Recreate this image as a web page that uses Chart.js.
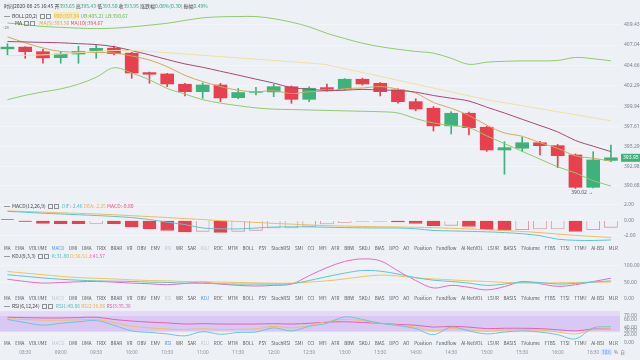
<!DOCTYPE html>
<html lang="zh-CN">
<head>
<meta charset="UTF-8" />
<title>K线 BOLL MA MACD KDJ RSI</title>
<script src="https://cdn.jsdelivr.net/npm/chart.js"></script>
<style>
  html, body { margin: 0; padding: 0; }
  body {
    width: 640px; height: 360px; overflow: hidden; position: relative;
    background: #edf0f5; color: #444;
    font-family: 'Noto Sans CJK SC', 'Noto Sans', sans-serif;
  }
  .pane { position: absolute; left: 0; }
  .txt { position: absolute; white-space: nowrap; font-size: 5px; line-height: 6px; }
  .txt b { font-weight: normal; }
  .g { color: #36a679; }
  .dash { display: inline-block; width: 6px; height: 0.7px; background: #999; vertical-align: middle; margin-right: 2px; }
  .box { display: inline-block; width: 3px; height: 3px; border: 0.7px solid #8a8f98; vertical-align: middle; margin-left: 1px; }
  .tabs {
    position: absolute; left: 4px; width: 614px; display: flex; justify-content: space-between;
    font-size: 4.6px; line-height: 6px; color: #555; white-space: nowrap;
  }
  .tabs .on { color: #4a8cf0; }
  .tabs .dim { color: #c3c7ce; }
</style>
</head>
<body>

<div class="pane" style="top:0"><canvas id="mainChart" width="640" height="197"></canvas></div>
<div class="pane" style="top:198px"><canvas id="macdChart" width="640" height="52"></canvas></div>
<div class="pane" style="top:250px"><canvas id="kdjChart" width="640" height="50"></canvas></div>
<div class="pane" style="top:300px"><canvas id="rsiChart" width="640" height="60"></canvas></div>

<div class="txt" style="left:4px;top:3px">时间2020-08-25 16:45 开<b class="g">393.65</b> 高<b class="g">395.43</b> 低<b class="g">393.50</b> 收<b class="g">393.95</b> 涨跌幅<b class="g">0.08%(0.30)</b> 振幅<b class="g">0.49%</b></div>
<div class="txt" style="left:4px;top:12.5px"><span class="dash"></span>BOLL(20,2) <span class="box"></span><span class="box"></span>
  <b style="color:#e5b52e;background:rgba(250,226,120,0.45);margin-left:2px">MID:397.94</b>
  <b style="color:#6dba4a">UB:405.21</b> <b style="color:#6dba4a">LB:390.67</b></div>
<div class="txt" style="left:15px;top:19.5px">MA <span class="box"></span><span class="box"></span>
  <b style="color:#e3a23a;margin-left:3px">MA(5):393.56</b> <b style="color:#e0505e">MA(10):394.67</b></div>
<div class="txt" style="left:3px;top:24px;font-size:4px;color:#777">-28</div>

<div class="txt" style="left:4px;top:203px"><span class="dash"></span>MACD(12,26,9) <span class="box"></span><span class="box"></span>
  <b style="color:#4fc4c9;margin-left:2px">DIF:-2.46</b> <b style="color:#eeb34f">DEA:-2.25</b> <b style="color:#e2577a">MACD:-0.80</b></div>
<div class="txt" style="left:4px;top:253px"><span class="dash"></span>KDJ(9,3,3) <span class="box"></span><span class="box"></span>
  <b style="color:#4fc4c9;margin-left:2px">K:31.80</b> <b style="color:#eeb34f">D:36.51</b> <b style="color:#e060b8">J:41.57</b></div>
<div class="txt" style="left:4px;top:302.5px"><span class="dash"></span>RSI(6,12,24) <span class="box"></span><span class="box"></span>
  <b style="color:#4fc4c9;margin-left:2px">RSI1:40.86</b> <b style="color:#eeb34f">RSI2:36.06</b> <b style="color:#e060b8">RSI3:35.36</b></div>
<div class="txt" style="left:601px;top:349px;font-size:4.6px;color:#777"><span style="background:#d6e4fb;color:#4a8cf0;padding:0 1px">7(D)</span> &nbsp;% &nbsp;自</div>

<script>
  const times = ['08:15','08:30','08:45','09:00','09:15','09:30','09:45','10:00','10:15','10:30',
    '10:45','11:00','11:15','11:30','11:45','12:00','12:15','12:30','12:45','13:00',
    '13:15','13:30','13:45','14:00','14:15','14:30','14:45','15:00','15:15','15:30',
    '15:45','16:00','16:15','16:30','16:45'];

  const openP = [406.60,406.80,406.27,405.58,406.00,406.35,406.66,406.10,403.84,403.68,
    402.49,401.63,402.40,400.93,401.55,401.60,402.20,400.74,402.10,401.93,
    403.07,402.60,401.83,400.47,399.70,397.65,399.12,397.50,394.86,395.06,
    395.70,395.36,394.28,390.53,393.65];
  const highP = [407.20,406.85,406.55,406.30,406.90,407.05,406.93,406.20,403.90,403.75,
    402.60,402.65,402.60,401.99,402.14,402.48,402.30,402.20,402.52,403.15,
    403.20,402.70,401.95,400.80,399.90,399.30,399.25,397.60,395.82,396.37,
    395.85,395.50,394.40,394.66,395.43];
  const lowP = [405.90,405.50,404.93,404.93,404.93,405.50,405.90,403.18,402.60,402.21,
    401.13,400.86,400.47,400.80,401.25,401.05,400.28,400.47,401.70,401.80,
    402.40,401.13,400.30,399.40,397.06,396.72,396.60,394.70,392.04,394.66,
    394.28,392.80,390.40,390.45,393.50];
  const closeP = [406.80,406.27,405.55,406.00,406.30,406.66,406.05,403.80,403.65,402.52,
    401.63,402.40,400.90,401.53,401.66,402.21,400.74,402.02,401.90,403.07,
    402.52,401.63,400.47,399.62,397.65,399.12,397.45,394.86,395.13,395.70,
    395.36,394.20,390.53,393.70,393.95];

  const bollUp = [409.60,409.40,409.20,409.10,409.00,408.95,409.00,409.15,409.35,409.57,
    409.90,410.20,410.32,410.35,410.35,410.10,409.70,409.15,408.40,407.80,
    407.25,406.85,406.55,406.30,406.10,405.50,404.80,405.05,405.15,405.20,
    405.20,405.25,405.60,405.45,405.21];
  const bollMid = [405.80,405.85,405.90,406.00,406.15,406.30,406.40,406.40,406.30,406.15,
    406.00,405.85,405.70,405.55,405.40,405.25,405.10,404.95,404.75,404.30,
    403.85,403.40,402.95,402.50,402.05,401.60,401.15,400.70,400.35,400.00,
    399.65,399.30,398.95,398.60,398.25];
  const bollLow = [400.70,401.20,401.60,401.95,402.50,403.30,404.40,403.80,403.00,402.00,
    401.35,400.70,400.30,400.00,399.75,399.60,399.55,399.50,399.45,399.40,
    399.35,399.30,399.15,398.50,398.00,397.70,397.45,396.50,395.60,394.70,
    393.80,392.90,392.20,391.30,390.67];
  const ma5 = [408.00,407.30,406.70,406.30,406.20,406.17,406.12,405.77,405.30,404.53,
    403.52,402.80,402.22,401.79,401.62,401.74,401.41,401.62,401.70,401.98,
    402.05,402.22,401.92,401.46,400.38,399.70,398.86,397.74,396.84,396.45,
    395.70,395.05,394.18,393.90,393.56];
  const ma10 = [407.45,407.40,407.35,407.30,407.20,407.10,406.85,406.40,405.90,405.36,
    404.85,404.46,404.00,403.55,403.08,402.63,402.10,401.92,401.75,401.80,
    401.89,401.82,401.77,401.58,401.18,400.87,400.54,399.83,399.15,398.42,
    397.70,396.96,395.96,395.30,394.67];

  const dif = [1.16,1.05,0.92,0.82,0.72,0.62,0.50,0.35,0.10,-0.25,
    -0.55,-1.00,-1.10,-1.12,-1.00,-0.88,-0.85,-0.85,-0.90,-0.95,
    -0.98,-1.00,-1.00,-1.10,-1.32,-1.38,-1.43,-1.50,-1.60,-1.75,
    -2.00,-2.45,-2.60,-2.62,-2.55];
  const dea = [1.22,1.14,1.06,0.98,0.90,0.82,0.72,0.60,0.48,0.36,
    0.22,0.10,-0.05,-0.15,-0.27,-0.40,-0.50,-0.60,-0.70,-0.75,
    -0.80,-0.83,-0.86,-0.90,-0.96,-1.04,-1.12,-1.22,-1.33,-1.45,
    -1.60,-1.78,-1.96,-2.10,-2.22];
  const macdHist = [0.10,-0.15,-0.40,-0.43,-0.45,-0.42,-0.44,-0.87,-1.09,-1.30,
    -1.52,-1.43,-1.57,-1.43,-1.30,-1.00,-0.98,-0.78,-0.48,-0.26,
    -0.15,-0.14,-0.22,-0.39,-0.70,-0.65,-0.78,-1.22,-1.30,-1.22,
    -1.13,-1.12,-1.43,-1.22,-0.91];

  const kLine = [73,68,63,59,56,54,53,52,50,49,47,46,45,44,44,44,45,55,67,78,
    86,84,75,64,56,52,47,40,44,50,49,44,46,50,54];
  const dLine = [83,78,73,68,64,62,60,57,55,54,52,51,50,49,48,47,47,50,54,60,
    67,72,69,63,60,57,54,52,49,47,47,48,49,50,50];
  const jLine = [59,52,47,49,51,52,50,47,45,42,46,50,44,40,38,40,44,70,95,114,
    122,116,85,55,32,40,34,26,36,52,45,37,42,52,62];

  const rsi1 = [60,52,45,50,54,57,45,30,26,22,17,28,21,26,27,38,30,42,50,67,
    60,50,44,36,20,40,30,22,27,30,27,20,9,38,40.86];
  const rsi2 = [62,60,58,58,59,60,52,42,38,35,33,36,33,34,35,42,38,44,55,60,
    57,50,45,40,30,36,33,29,32,33,32,27,22,33,36.06];
  const rsi3 = [66,65,64,64,65,66,60,56,53,51,48,49,48,48,48,49,48,50,53,54,
    52,50,47,45,40,42,40,36,37,37,36,33,30,35,35.36];

  const priceTicks = [390.68, 392.98, 395.29, 397.61, 399.94, 402.29, 404.66, 407.04, 409.43];
  const macdTicks = [-2, 0, 2];
  const kdjTicks = [0, 50, 100];
  const rsiTicks = [0, 20, 30, 40, 60, 70];
  const lowLabel = '390.02';

  const tabNames = ['MA','EMA','VOLUME','MACD','DMI','DMA','TRIX','BRAR','VR','OBV','EMV','RSI','WR','SAR',
    'KDJ','ROC','MTM','BOLL','PSY','StochRSI','SMI','CCI','MFI','ATR','BBW','SKDJ','BIAS','DPO','AO',
    'Position','Fundflow','AI-NetVOL','LSUR','BASIS','TVolume','FTBS','TTSI','TTMU','AI-BSI','MLR'];

  const RED = '#e8404f', GREEN = '#3db27a', HOLLOW = '#d98891', BG = '#edf0f5';
  const X_MIN = -0.42, X_MAX = 34.51;

  Chart.defaults.font.family = "'Noto Sans', sans-serif";

  const xy = arr => arr.map((v, i) => ({ x: i, y: v }));
  const line = (data, color, order) => ({
    type: 'line', data: xy(data), borderColor: color, borderWidth: 1,
    pointRadius: 0, tension: 0.35, order: order || 0
  });

  function xHidden() {
    return { type: 'linear', min: X_MIN, max: X_MAX, offset: false, display: false };
  }

  function yRight(min, max, ticks) {
    return {
      position: 'right', min: min, max: max,
      afterFit: s => { s.width = 20; s.paddingTop = 0; s.paddingBottom = 0; },
      afterBuildTicks: s => { s.ticks = ticks.map(v => ({ value: v })); },
      ticks: { font: { size: 5 }, color: '#7c818a', padding: 4, callback: v => v.toFixed(2) },
      grid: { color: 'rgba(255,255,255,0.35)', drawTicks: false },
      border: { display: false }
    };
  }

  const baseOptions = {
    responsive: false, animation: false, events: [], devicePixelRatio: 1,
    layout: { padding: 0 },
    plugins: { legend: { display: false }, tooltip: { enabled: false } }
  };

  // etiqueta do último preço e marca da mínima
  const priceTag = {
    id: 'priceTag',
    afterDraw(chart) {
      const { ctx, chartArea, scales: { x, y } } = chart;
      const last = closeP.length - 1;
      const py = y.getPixelForValue(closeP[last]);
      ctx.save();
      ctx.fillStyle = GREEN;
      ctx.fillRect(chartArea.right + 1, py - 4, 19, 8);
      ctx.fillStyle = '#fff';
      ctx.font = "5px 'Noto Sans'";
      ctx.textBaseline = 'middle';
      ctx.textAlign = 'left';
      ctx.fillText(closeP[last].toFixed(2), chartArea.right + 3, py);
      ctx.fillStyle = '#555';
      ctx.textAlign = 'right';
      ctx.fillText(lowLabel + ' →', x.getPixelForValue(33), y.getPixelForValue(lowP[32]) + 4);
      ctx.restore();
    }
  };

  const candleColors = openP.map((o, i) => closeP[i] >= o ? GREEN : RED);

  new Chart(document.getElementById('mainChart'), {
    type: 'bar',
    data: {
      datasets: [
        line(bollUp, '#8fcb6c'),
        line(bollMid, '#f1dfa6'),
        line(bollLow, '#8fcb6c'),
        line(ma10, '#a8496f'),
        line(ma5, '#d2a95c'),
        {
          type: 'bar', data: openP.map((o, i) => ({ x: i, y: [o, closeP[i]] })),
          backgroundColor: candleColors, barThickness: 13, grouped: false, minBarLength: 1, order: 1
        },
        {
          type: 'bar', data: lowP.map((l, i) => ({ x: i, y: [l, highP[i]] })),
          backgroundColor: candleColors, barThickness: 1, grouped: false, order: 2
        }
      ]
    },
    options: Object.assign({}, baseOptions, {
      scales: { x: xHidden(), y: yRight(389.40, 412.27, priceTicks) }
    }),
    plugins: [priceTag]
  });

  const histFill = macdHist.map((v, i) => {
    if (v > 0) return GREEN;
    if (i > 0 && v >= macdHist[i - 1]) return BG;
    return RED;
  });
  const histBorder = histFill.map(c => c === BG ? HOLLOW : c);

  new Chart(document.getElementById('macdChart'), {
    type: 'bar',
    data: {
      datasets: [
        line(dif, '#5cc7cc'),
        line(dea, '#f0bb62'),
        {
          type: 'bar', data: xy(macdHist), backgroundColor: histFill, borderColor: histBorder,
          borderWidth: 0.8, barThickness: 13, minBarLength: 1, order: 1
        }
      ]
    },
    options: Object.assign({}, baseOptions, {
      scales: { x: xHidden(), y: yRight(-3.857, 2.896, macdTicks) }
    })
  });

  new Chart(document.getElementById('kdjChart'), {
    type: 'line',
    data: {
      datasets: [
        line(kLine, '#5cc7cc'),
        line(dLine, '#f0c262'),
        line(jLine, '#e36cc0')
      ]
    },
    options: Object.assign({}, baseOptions, {
      scales: { x: xHidden(), y: yRight(-5.3, 149.5, kdjTicks) }
    })
  });

  const rsiBand = {
    id: 'rsiBand',
    beforeDatasetsDraw(chart) {
      const { ctx, chartArea: a, scales: { y } } = chart;
      ctx.save();
      ctx.fillStyle = 'rgba(226,214,247,0.9)';
      ctx.fillRect(a.left, y.getPixelForValue(82), a.right - a.left, y.getPixelForValue(70) - y.getPixelForValue(82));
      ctx.fillStyle = 'rgba(214,195,244,0.9)';
      ctx.fillRect(a.left, y.getPixelForValue(70), a.right - a.left, y.getPixelForValue(28) - y.getPixelForValue(70));
      ctx.restore();
    }
  };

  new Chart(document.getElementById('rsiChart'), {
    type: 'line',
    data: {
      datasets: [
        line(rsi1, '#6cc6cf'),
        line(rsi2, '#f0bc72'),
        line(rsi3, '#e262ad')
      ]
    },
    options: Object.assign({}, baseOptions, {
      scales: {
        x: {
          type: 'linear', min: X_MIN, max: X_MAX, offset: false, position: 'bottom',
          afterFit: s => { s.height = 12; s.paddingLeft = 0; s.paddingRight = 0; },
          afterBuildTicks: s => { s.ticks = times.map((t, i) => ({ value: i })).filter(t => t.value % 2 === 1); },
          ticks: { font: { size: 4.6 }, color: '#8a8f98', padding: 1.5, maxRotation: 0, autoSkip: false, callback: v => times[v] },
          grid: { display: false, drawTicks: false }, border: { display: false }
        },
        y: yRight(-15, 111.3, rsiTicks)
      }
    }),
    plugins: [rsiBand]
  });

  function tabRow(top, active, dim) {
    const row = document.createElement('div');
    row.className = 'tabs';
    row.style.top = top + 'px';
    tabNames.forEach(n => {
      const s = document.createElement('span');
      s.textContent = n;
      if (n === active) s.className = 'on';
      else if (dim.includes(n)) s.className = 'dim';
      row.appendChild(s);
    });
    document.body.appendChild(row);
  }
  tabRow(245, 'MACD', ['RSI', 'KDJ']);
  tabRow(295, 'KDJ', ['MACD', 'RSI']);
  tabRow(340, 'RSI', ['MACD', 'KDJ']);
</script>

</body>
</html>
